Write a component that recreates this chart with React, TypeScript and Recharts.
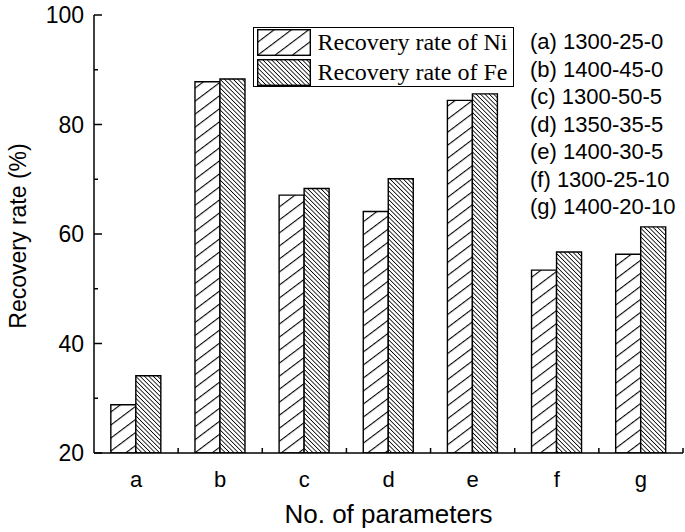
import React from 'react';
import { BarChart, Bar, XAxis, YAxis, Legend } from 'recharts';

const categories = ['a', 'b', 'c', 'd', 'e', 'f', 'g'];
const niRecovery = [28.8, 87.8, 67.1, 64.1, 84.4, 53.4, 56.3];
const feRecovery = [34.1, 88.3, 68.3, 70.1, 85.6, 56.7, 61.3];
const yTicks = [20, 30, 40, 50, 60, 70, 80, 90, 100];
const yMajorTicks = [20, 40, 60, 80, 100];
const seriesNames = ['Recovery rate of Ni', 'Recovery rate of Fe'];
const parameterLabels = [
  '(a) 1300-25-0',
  '(b) 1400-45-0',
  '(c) 1300-50-5',
  '(d) 1350-35-5',
  '(e) 1400-30-5',
  '(f) 1300-25-10',
  '(g) 1400-20-10',
];
const xAxisTitle = 'No. of parameters';
const yAxisTitle = 'Recovery rate (%)';

const data = categories.map((c, i) => ({ name: c, ni: niRecovery[i], fe: feRecovery[i] }));

const SANS = '"Liberation Sans", Arial, sans-serif';
const SERIF = '"Liberation Serif", "Times New Roman", serif';

const PatternDefs = ({ prefix }: { prefix: string }) => (
  <defs>
    <pattern id={`${prefix}-ni`} patternUnits="userSpaceOnUse" width={10.4} height={10.4} patternTransform="rotate(53)">
      <rect width={10.4} height={10.4} fill="#fff" />
      <line x1={0} y1={0} x2={0} y2={10.4} stroke="#000" strokeWidth={2.2} />
    </pattern>
    <pattern id={`${prefix}-fe`} patternUnits="userSpaceOnUse" width={3.1} height={3.1} patternTransform="rotate(-45)">
      <rect width={3.1} height={3.1} fill="#fff" />
      <line x1={0} y1={0} x2={0} y2={3.1} stroke="#000" strokeWidth={1.6} />
    </pattern>
  </defs>
);

const BottomTick = (props: any) => {
  const { x, y, payload } = props;
  const off = payload && payload.offset != null ? payload.offset : 42;
  return (
    <g>
      <line x1={x + off} y1={y} x2={x + off} y2={y - 5} stroke="#000" strokeWidth={1.5} />
      <text x={x} y={y + 34} textAnchor="middle" fontSize={22} fontFamily={SANS} fill="#000">
        {payload.value}
      </text>
    </g>
  );
};

const TopTick = (props: any) => {
  const { x, y, payload } = props;
  const off = payload && payload.offset != null ? payload.offset : 42;
  return (
    <g>
      <line x1={x} y1={y} x2={x} y2={y + 8} stroke="#000" strokeWidth={1.5} />
      <line x1={x + off} y1={y} x2={x + off} y2={y + 4} stroke="#000" strokeWidth={1.5} />
    </g>
  );
};

const LeftTick = (props: any) => {
  const { x, y, payload } = props;
  const major = yMajorTicks.includes(payload.value);
  return (
    <g>
      <line x1={x} y1={y} x2={x + (major ? 8 : 4)} y2={y} stroke="#000" strokeWidth={1.5} />
      {major && (
        <text x={x - 10} y={y + 8.2} textAnchor="end" fontSize={23} fontFamily={SANS} fill="#000">
          {payload.value}
        </text>
      )}
    </g>
  );
};

const RightTick = (props: any) => {
  const { x, y, payload } = props;
  const major = yMajorTicks.includes(payload.value);
  return <line x1={x} y1={y} x2={x - (major ? 8 : 4)} y2={y} stroke="#000" strokeWidth={1.5} />;
};

const renderLegend = () => (
  <div
    style={{
      position: 'relative',
      width: 261,
      height: 60,
      boxSizing: 'border-box',
      border: '1.5px solid #000',
      background: '#fff',
    }}
  >
    {seriesNames.map((name, i) => (
      <React.Fragment key={name}>
        <svg
          width={54}
          height={27}
          style={{ position: 'absolute', left: 2.5, top: 0.5 + i * 30, overflow: 'visible' }}
        >
          <PatternDefs prefix={`leg${i}`} />
          <rect
            x={0.7}
            y={0.7}
            width={52.6}
            height={25.6}
            fill={`url(#leg${i}-${i === 0 ? 'ni' : 'fe'})`}
            stroke="#000"
            strokeWidth={1.4}
          />
        </svg>
        <div
          style={{
            position: 'absolute',
            left: 63.5,
            top: 0.5 + i * 30,
            height: 27,
            lineHeight: '27px',
            fontSize: 24,
            fontFamily: SERIF,
            color: '#000',
            whiteSpace: 'nowrap',
          }}
        >
          {name}
        </div>
      </React.Fragment>
    ))}
  </div>
);

export default function App() {
  return (
    <div style={{ position: 'absolute', left: 0, top: 0, width: 685, height: 532, background: '#fff' }}>
      <BarChart
        width={685}
        height={532}
        data={data}
        margin={{ top: 15, right: 2, bottom: 29, left: 0 }}
        barCategoryGap="20%"
        barGap={0}
      >
        <PatternDefs prefix="bar" />
        <XAxis
          dataKey="name"
          height={50}
          axisLine={{ stroke: '#000', strokeWidth: 1.5 }}
          tickLine={false}
          tickSize={0}
          tickMargin={0}
          tick={<BottomTick />}
          interval={0}
          label={{
            content: (p: any) => {
              const vb = p.viewBox || {};
              return (
                <text
                  x={vb.x + vb.width / 2}
                  y={vb.y + 70}
                  textAnchor="middle"
                  fontSize={26}
                  fontFamily={SANS}
                  fill="#000"
                >
                  {xAxisTitle}
                </text>
              );
            },
          }}
        />
        <XAxis
          xAxisId="top"
          dataKey="name"
          orientation="top"
          height={0}
          axisLine={{ stroke: '#000', strokeWidth: 1.5 }}
          tickLine={false}
          tickSize={0}
          tickMargin={0}
          tick={<TopTick />}
          interval={0}
        />
        <YAxis
          width={94}
          domain={[20, 100]}
          ticks={yTicks}
          interval={0}
          axisLine={{ stroke: '#000', strokeWidth: 1.5 }}
          tickLine={false}
          tickSize={0}
          tickMargin={0}
          tick={<LeftTick />}
          allowDataOverflow
          label={{
            content: (p: any) => {
              const vb = p.viewBox || {};
              const cx = vb.x + 26;
              const cy = vb.y + vb.height / 2 + 2;
              return (
                <text
                  x={cx}
                  y={cy}
                  transform={`rotate(-90 ${cx} ${cy})`}
                  textAnchor="middle"
                  fontSize={23}
                  fontFamily={SANS}
                  fill="#000"
                >
                  {yAxisTitle}
                </text>
              );
            },
          }}
        />
        <YAxis
          yAxisId="right"
          orientation="right"
          width={0}
          domain={[20, 100]}
          ticks={yTicks}
          interval={0}
          axisLine={{ stroke: '#000', strokeWidth: 1.5 }}
          tickLine={false}
          tickSize={0}
          tickMargin={0}
          tick={<RightTick />}
        />
        <Legend
          layout="vertical"
          align="center"
          verticalAlign="middle"
          content={renderLegend}
          wrapperStyle={{ left: 253, top: 27, width: 261, height: 60 }}
        />
        <Bar
          dataKey="ni"
          name={seriesNames[0]}
          fill="url(#bar-ni)"
          stroke="#000"
          strokeWidth={1.4}
          isAnimationActive={false}
        />
        <Bar
          dataKey="fe"
          name={seriesNames[1]}
          fill="url(#bar-fe)"
          stroke="#000"
          strokeWidth={1.4}
          isAnimationActive={false}
        />
      </BarChart>
      <div
        style={{
          position: 'absolute',
          left: 530,
          top: 28.25,
          fontSize: 22,
          lineHeight: '27.5px',
          fontFamily: SANS,
          color: '#000',
          whiteSpace: 'nowrap',
        }}
      >
        {parameterLabels.map((t) => (
          <div key={t}>{t}</div>
        ))}
      </div>
    </div>
  );
}
